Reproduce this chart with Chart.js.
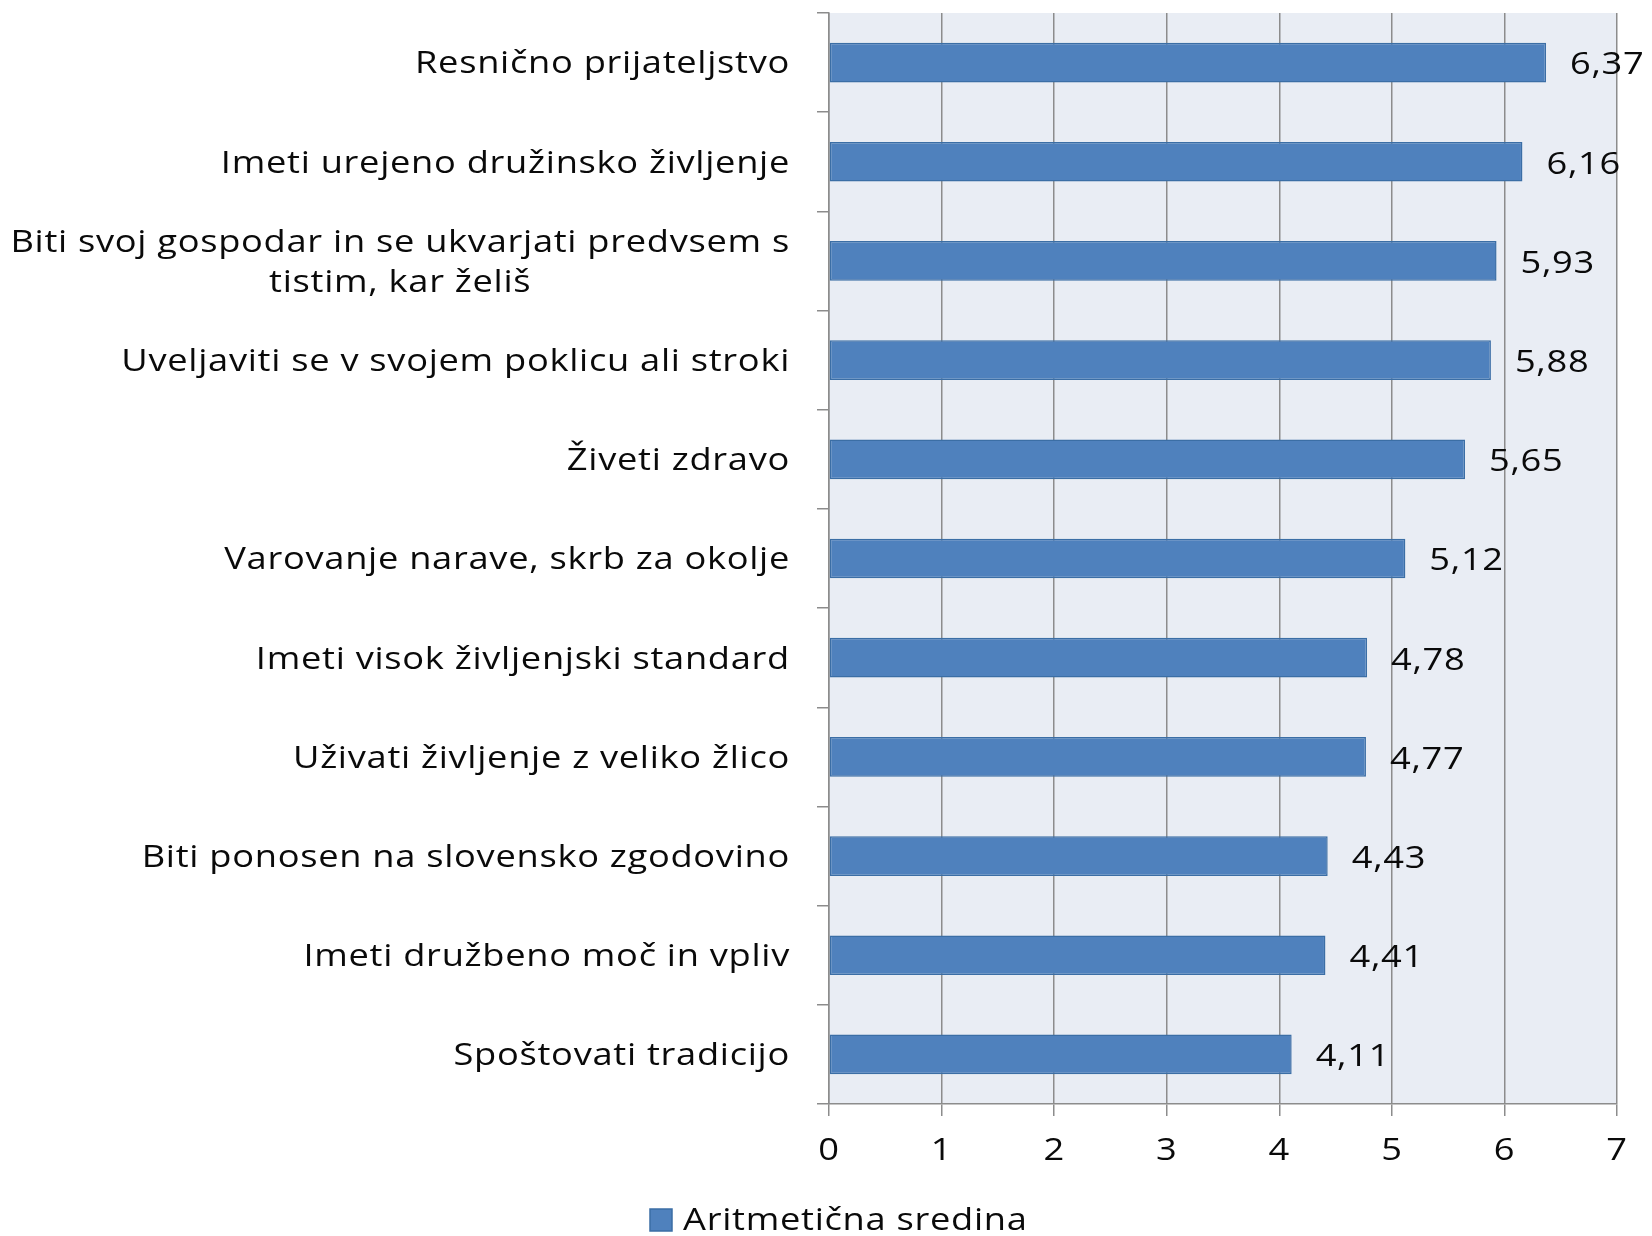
<!DOCTYPE html>
<html>
<head>
    <meta charset="utf-8">
    <script src="https://cdn.jsdelivr.net/npm/chart.js@4.4.1/dist/chart.umd.min.js"></script>
    <style>
        html, body { margin: 0; padding: 0; background: #fff; }
    </style>
</head>
<body>
    <div style="width:1652px;height:1236px;">
        <canvas id="myChart" width="1652" height="1236"></canvas>
    </div>
</body>
<script>
    // kategorije (od zgoraj navzdol)
    const categories = [
        'Resnično prijateljstvo',
        'Imeti urejeno družinsko življenje',
        ['Biti svoj gospodar in se ukvarjati predvsem s', 'tistim, kar želiš'],
        'Uveljaviti se v svojem poklicu ali stroki',
        'Živeti zdravo',
        'Varovanje narave, skrb za okolje',
        'Imeti visok življenjski standard',
        'Uživati življenje z veliko žlico',
        'Biti ponosen na slovensko zgodovino',
        'Imeti družbeno moč in vpliv',
        'Spoštovati tradicijo'
    ]
    const means = [6.37, 6.16, 5.93, 5.88, 5.65, 5.12, 4.78, 4.77, 4.43, 4.41, 4.11]
    const xTicks = [0, 1, 2, 3, 4, 5, 6, 7]
    const seriesName = 'Aritmetična sredina'

    const FONT = '"Open Sans", sans-serif'
    const FSIZE = 31
    const STRETCH = 1.17   // pisava v izvirniku je vodoravno raztegnjena
    const GRID = '#8c8c8c'
    const BAR = '#4f81bd'

    // raztegnjeno besedilo; align: 'left' | 'center' | 'right'
    const stretchText = (ctx, txt, x, y, align) => {
        const w = ctx.measureText(txt).width * STRETCH
        let x0 = x
        if (align === 'center') x0 = x - w / 2
        if (align === 'right') x0 = x - w
        ctx.save()
        ctx.translate(x0, y)
        ctx.scale(STRETCH, 1)
        ctx.textAlign = 'left'
        ctx.fillText(txt, 0, 0)
        ctx.restore()
        return w
    }

    const setFont = (ctx) => {
        ctx.font = FSIZE + 'px ' + FONT
        ctx.letterSpacing = '0.6px'
        ctx.fillStyle = '#0a0a0a'
        ctx.textBaseline = 'middle'
    }

    // ozadje risalne površine
    const plotBg = {
        id: 'plotBg',
        beforeDraw(chart) {
            const { ctx, chartArea: a } = chart
            ctx.save()
            ctx.fillStyle = '#e9edf4'
            ctx.fillRect(a.left, a.top, a.right - a.left, a.bottom - a.top)
            ctx.restore()
        }
    }

    // oznake kategorij (blok desno poravnan, vrstice centrirane), oznake osi x
    const axisLabels = {
        id: 'axisLabels',
        afterDraw(chart) {
            const { ctx } = chart
            const y = chart.scales.y
            const x = chart.scales.x
            ctx.save()
            setFont(ctx)
            const right = 790
            categories.forEach((lab, i) => {
                const lines = Array.isArray(lab) ? lab : [lab]
                const w = Math.max(...lines.map(l => ctx.measureText(l).width * STRETCH))
                const cy = y.getPixelForValue(i) + 2
                const lh = 40
                lines.forEach((l, j) => {
                    stretchText(ctx, l, right - w / 2, cy + (j - (lines.length - 1) / 2) * lh, 'center')
                })
            })
            xTicks.forEach(v => {
                stretchText(ctx, String(v), x.getPixelForValue(v), 1151, 'center')
            })
            ctx.restore()
        }
    }

    // vrednosti ob stolpcih + legenda
    const valueLabels = {
        id: 'valueLabels',
        afterDraw(chart) {
            const { ctx } = chart
            const meta = chart.getDatasetMeta(0)
            ctx.save()
            setFont(ctx)
            meta.data.forEach((bar, i) => {
                stretchText(ctx, means[i].toFixed(2).replace('.', ','), bar.x + 24, bar.y + 3, 'left')
            })

            // legenda
            const ly = 1220
            ctx.fillStyle = BAR
            ctx.fillRect(650, ly - 11, 22, 22)
            ctx.strokeStyle = '#3b6ea5'
            ctx.lineWidth = 1.5
            ctx.strokeRect(650, ly - 11, 22, 22)
            ctx.fillStyle = '#0a0a0a'
            stretchText(ctx, seriesName, 683, ly + 1, 'left')
            ctx.restore()
        }
    }

    const data = {
        labels: categories,
        datasets: [{
            label: seriesName,
            data: means,
            backgroundColor: BAR,
            borderColor: '#3b6ea5',
            borderWidth: 1.5,
            borderSkipped: false,
            barPercentage: 0.4,
            categoryPercentage: 1.0
        }]
    }

    const config = {
        type: 'bar',
        data: data,
        options: {
            indexAxis: 'y',
            responsive: false,
            animation: false,
            layout: { padding: { top: 13, right: 35, left: 0, bottom: 50 } },
            scales: {
                x: {
                    min: 0,
                    max: 7,
                    afterBuildTicks: (s) => { s.ticks = xTicks.map(v => ({ value: v })) },
                    grid: { color: GRID, lineWidth: 1.5, tickLength: 12 },
                    border: { color: GRID, width: 1.5 },
                    ticks: { display: false },
                    afterFit: (s) => { s.height = 82 }
                },
                y: {
                    grid: { color: GRID, lineWidth: 1.5, tickLength: 12, drawOnChartArea: false, offset: true },
                    border: { color: GRID, width: 1.5 },
                    ticks: { display: false },
                    afterFit: (s) => { s.width = 829 }
                }
            },
            plugins: {
                legend: { display: false },
                tooltip: { enabled: false }
            }
        },
        plugins: [plotBg, axisLabels, valueLabels]
    }

    const myChart = new Chart(document.getElementById('myChart'), config)
</script>
</html>
